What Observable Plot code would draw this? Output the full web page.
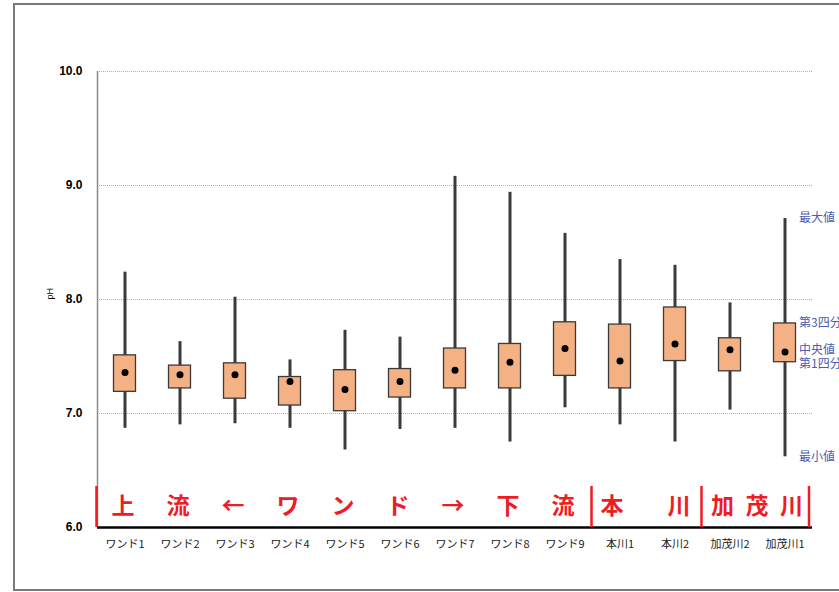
<!DOCTYPE html>
<html><head><meta charset="utf-8">
<script src="https://cdn.jsdelivr.net/npm/d3@7"></script>
<script src="https://cdn.jsdelivr.net/npm/@observablehq/plot@0.6"></script>
<style>
html,body{margin:0;padding:0;background:#fff;overflow:hidden;}
#wrap{position:relative;width:839px;height:592px;overflow:hidden;}
#border{position:absolute;left:13px;top:3px;width:900px;height:588px;border:2px solid #7a7a7a;box-sizing:border-box;}
#chart{position:absolute;left:0;top:0;}
</style></head><body>
<div id="wrap"><div id="border"></div><div id="chart"></div></div>
<script>
const categories = ["ワンド1","ワンド2","ワンド3","ワンド4","ワンド5","ワンド6","ワンド7","ワンド8","ワンド9","本川1","本川2","加茂川2","加茂川1"];
const maxV = [8.24, 7.63, 8.02, 7.47, 7.73, 7.67, 9.08, 8.94, 8.58, 8.35, 8.30, 7.97, 8.71];
const q3V  = [7.51, 7.42, 7.44, 7.32, 7.38, 7.39, 7.57, 7.61, 7.80, 7.78, 7.93, 7.66, 7.79];
const medV = [7.36, 7.34, 7.34, 7.28, 7.21, 7.28, 7.38, 7.45, 7.57, 7.46, 7.61, 7.56, 7.54];
const q1V  = [7.19, 7.22, 7.13, 7.07, 7.02, 7.14, 7.22, 7.22, 7.33, 7.22, 7.46, 7.37, 7.45];
const minV = [6.87, 6.90, 6.91, 6.87, 6.68, 6.86, 6.87, 6.75, 7.05, 6.90, 6.75, 7.03, 6.62];
const yTicks = [6, 7, 8, 9, 10];
const wandChars = ["上","流","←","ワ","ン","ド","→","下","流"];
const honChars = ["本","川"];
const kamoLabel = "加\u2002茂\u2002川";
const legendNames = ["最大値","第3四分位","中央値","第1四分位","最小値"];

const rows = categories.map((c, i) => ({cat: c, max: maxV[i], q3: q3V[i], med: medV[i], q1: q1V[i], min: minV[i]}));
const wandRows = wandChars.map((t, i) => ({cat: categories[i], t}));
const honRows = honChars.map((t, i) => ({cat: categories[9 + i], t}));
const last = rows[rows.length - 1];
const legendRows = [
  {name: legendNames[0], y: last.max},
  {name: legendNames[1], y: last.q3},
  {name: legendNames[2], y: last.med + 0.02},
  {name: legendNames[3], y: last.q1 - 0.015},
  {name: legendNames[4], y: last.min}
];
const red = "#ee1c25";
const jp = "'Noto Sans CJK JP', sans-serif";

const chart = Plot.plot({
  width: 839,
  height: 592,
  marginLeft: 97,
  marginRight: 27,
  marginTop: 71,
  marginBottom: 65,
  style: {fontFamily: "'Liberation Sans', Arial, sans-serif", background: "transparent", overflow: "visible"},
  x: {type: "band", domain: categories, padding: 0},
  y: {domain: [6, 10]},
  marks: [
    Plot.gridY([7, 8, 9, 10], {stroke: "#b0b0b0", strokeOpacity: 1, strokeDasharray: "1,1"}),
    Plot.ruleX([categories[0]], {x: d => d, dx: -27.5, y1: 6, y2: 10, stroke: "#8a8a8a", strokeWidth: 1.5}),
    Plot.axisY(yTicks, {tickSize: 0, tickPadding: 15, tickFormat: d3.format(".1f"), fontWeight: "bold", fontSize: 12, fill: "#000", label: null}),
    Plot.text(["pH"], {frameAnchor: "left", dx: -47, rotate: -90, fontSize: 9, fill: "#000"}),
    Plot.axisX({tickSize: 0, tickPadding: 13, fontSize: 11, fontFamily: jp, fill: "#222", label: null}),
    Plot.ruleX(rows, {x: "cat", y1: "min", y2: "max", stroke: "#3a3a3a", strokeWidth: 3}),
    Plot.barY(rows, {x: "cat", y1: "q1", y2: "q3", fill: "#f4b183", stroke: "#3a3a3a", strokeWidth: 1.3, insetLeft: 16.5, insetRight: 16.5}),
    Plot.dot(rows, {x: "cat", y: "med", r: 3.5, fill: "#000", stroke: "none"}),
    Plot.ruleY([6], {stroke: "#000", strokeWidth: 2.5}),
    Plot.ruleX([categories[0], categories[9], categories[11]], {x: d => d, dx: -28.5, y1: 6, y2: 6.36, stroke: red, strokeWidth: 2.5}),
    Plot.ruleX([categories[12]], {x: d => d, dx: 24, y1: 6, y2: 6.36, stroke: red, strokeWidth: 2.5}),
    Plot.text(wandRows, {x: "cat", y: 6.18, text: "t", dx: -2, fill: red, fontSize: 23, fontWeight: "bold", fontFamily: jp}),
    Plot.text(honRows.slice(0, 1), {x: "cat", y: 6.18, text: "t", dx: -8, fill: red, fontSize: 23, fontWeight: "bold", fontFamily: jp}),
    Plot.text(honRows.slice(1), {x: "cat", y: 6.18, text: "t", dx: 4, fill: red, fontSize: 23, fontWeight: "bold", fontFamily: jp}),
    Plot.text([kamoLabel], {x: () => categories[11], y: () => 6.18, text: d => d, dx: 27, fill: red, fontSize: 23, fontWeight: "bold", fontFamily: jp}),
    Plot.text(legendRows, {x: () => categories[12], y: "y", text: "name", dx: 14, textAnchor: "start", fill: "#4a5cb0", fontSize: 12, fontFamily: jp})
  ]
});
document.getElementById("chart").appendChild(chart);
</script>
</body></html>
